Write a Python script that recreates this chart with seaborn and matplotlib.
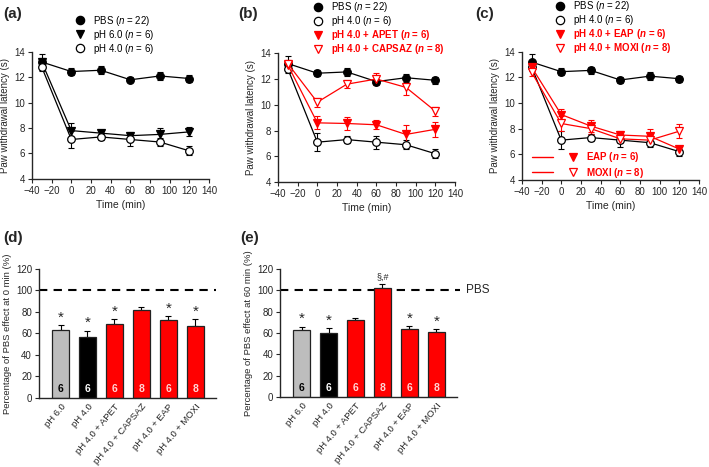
import numpy as np
import pandas as pd
import matplotlib
matplotlib.use("Agg")
import matplotlib.pyplot as plt
from matplotlib.lines import Line2D
from matplotlib.legend_handler import HandlerTuple
import seaborn as sns

# ---- data ----
times = [-30, 0, 30, 60, 90, 120]

pbs = [13.2, 12.45, 12.55, 11.8, 12.1, 11.9]
pbs_err = [0.6, 0.25, 0.3, 0.2, 0.3, 0.25]
ph6 = [13.2, 7.8, 7.6, 7.4, 7.5, 7.7]
ph6_err = [0.3, 0.6, 0.25, 0.3, 0.5, 0.35]
ph4 = [12.8, 7.1, 7.3, 7.1, 6.9, 6.2]
ph4_err = [0.3, 0.7, 0.25, 0.5, 0.35, 0.35]
apet = [13.1, 8.6, 8.55, 8.45, 7.7, 8.1]
apet_err = [0.35, 0.5, 0.5, 0.35, 0.7, 0.6]
capsaz = [13.2, 10.2, 11.6, 12.0, 11.35, 9.5]
capsaz_err = [0.3, 0.35, 0.3, 0.5, 0.6, 0.35]
eap = [12.8, 9.1, 8.2, 7.5, 7.4, 6.4]
eap_err = [0.25, 0.4, 0.5, 0.3, 0.6, 0.2]
moxi = [12.4, 8.4, 8.0, 7.2, 7.1, 7.8]
moxi_err = [0.3, 0.6, 0.4, 0.3, 0.4, 0.55]

groups = ["pH 6.0", "pH 4.0", "pH 4.0 + APET", "pH 4.0 + CAPSAZ",
          "pH 4.0 + EAP", "pH 4.0 + MOXI"]
n_animals = [6, 6, 6, 8, 6, 8]
pct_0min = [63, 57, 69, 81.5, 72.5, 67]
pct_0min_err = [4.5, 5.5, 4.5, 3, 3.5, 6]
pct_60min = [63, 60, 72, 102, 64, 61]
pct_60min_err = [3, 4.5, 2.5, 4, 2.5, 2.5]
marks_0min = ["*", "*", "*", "", "*", "*"]
marks_60min = ["*", "*", "", "§,#", "*", "*"]

RED = "#ff0000"
bar_colors = ["#bdbdbd", "black", RED, RED, RED, RED]
n_colors = ["black", "white", "#ffd6d6", "#ffd6d6", "#ffd6d6", "#ffd6d6"]

sns.set_style("ticks")
plt.rcParams["font.family"] = ["Liberation Sans", "DejaVu Sans"]
plt.rcParams["mathtext.fontset"] = "custom"
plt.rcParams["mathtext.rm"] = "Liberation Sans"
plt.rcParams["mathtext.it"] = "Liberation Sans:italic"
plt.rcParams["mathtext.bf"] = "Liberation Sans:bold"
plt.rcParams["mathtext.bfit"] = "Liberation Sans:italic:bold"
plt.rcParams["axes.linewidth"] = 1.0
plt.rcParams["xtick.major.size"] = 3
plt.rcParams["ytick.major.size"] = 3

N_IT = r"$\it{n}$"
N_BF = r"$\mathbfit{n}$"

# label, values, errors, colour, marker, face colour, bold label
S_PBS = (f"PBS ({N_IT} = 22)", pbs, pbs_err, "black", "o", "black", False)
S_PH6 = (f"pH 6.0 ({N_IT} = 6)", ph6, ph6_err, "black", "v", "black", False)
S_PH4 = (f"pH 4.0 ({N_IT} = 6)", ph4, ph4_err, "black", "o", "white", False)
S_APET = (f"pH 4.0 + APET ({N_BF} = 6)", apet, apet_err, RED, "v", RED, True)
S_CAPS = (f"pH 4.0 + CAPSAZ ({N_BF} = 8)", capsaz, capsaz_err, RED, "v", "white", True)
S_EAP = (f"pH 4.0 + EAP ({N_BF} = 6)", eap, eap_err, RED, "v", RED, True)
S_MOXI = (f"pH 4.0 + MOXI ({N_BF} = 8)", moxi, moxi_err, RED, "v", "white", True)


def time_course(ax, series, legend_xy):
    """ time_course() draws latency curves with error bars."""
    for label, vals, errs, col, mk, fc, bold in series:
        ax.errorbar(times, vals, yerr=errs, fmt="none", ecolor=col,
                    elinewidth=0.8, capsize=2.5, capthick=0.8, zorder=2)
        df = pd.DataFrame({"Time": times, "Latency": vals})
        sns.lineplot(data=df, x="Time", y="Latency", ax=ax, color=col,
                     marker=mk, markersize=5.5, markerfacecolor=fc,
                     markeredgecolor=col, markeredgewidth=0.9,
                     linewidth=0.9, zorder=3)
    ax.set_xlim(-40, 140)
    ax.set_ylim(4, 14)
    ax.set_xticks(range(-40, 141, 20))
    ax.set_yticks(range(4, 15, 2))
    ax.tick_params(labelsize=7, width=0.8, direction="out", pad=2)
    ax.set_xlabel("Time (min)", fontsize=7.5, labelpad=3)
    ax.set_ylabel("Paw withdrawal latency (s)", fontsize=7, labelpad=3)
    sns.despine(ax=ax)

    handles = [Line2D([], [], ls="none", marker=s[4], ms=6, mfc=s[5],
                      mec=s[3], mew=0.9) for s in series]
    leg = ax.legend(handles, [s[0] for s in series], loc="upper left",
                    bbox_to_anchor=legend_xy, frameon=False, fontsize=7,
                    handlelength=1, handletextpad=0.9, labelspacing=0.0,
                    borderpad=0, borderaxespad=0)
    for txt, s in zip(leg.get_texts(), series):
        txt.set_color(s[3])
        if s[6]:
            txt.set_fontweight("bold")
    return leg


def percent_bars(ax, vals, errs, marks, ylabel):
    """ percent_bars() draws the % of PBS effect for each group."""
    sns.barplot(x=groups, y=vals, hue=groups, palette=bar_colors,
                legend=False, width=0.62, edgecolor="#222222",
                linewidth=0.9, saturation=1, ax=ax, zorder=2)
    pos = np.arange(len(groups))
    ax.errorbar(pos, vals, yerr=[np.zeros(len(errs)), errs], fmt="none",
                ecolor="black", elinewidth=0.8, capsize=2.5, capthick=0.8,
                zorder=1)
    for i in pos:
        ax.text(i, 8, str(n_animals[i]), ha="center", va="center",
                fontsize=7.5, fontweight="bold", color=n_colors[i])
        if marks[i] == "*":
            ax.text(i, vals[i] + errs[i] + 0.5, "*", ha="center",
                    va="bottom", fontsize=11)
        elif marks[i]:
            ax.text(i, vals[i] + errs[i] + 2, marks[i], ha="center",
                    va="bottom", fontsize=6.5)
    ax.set_xlim(-0.8, 5.78)
    ax.set_ylim(0, 120)
    ax.set_yticks(range(0, 121, 20))
    ax.tick_params(axis="y", labelsize=7, width=0.8, pad=2)
    ax.tick_params(axis="x", labelsize=6.8, length=0, pad=3)
    plt.setp(ax.get_xticklabels(), rotation=50, ha="right",
             rotation_mode="anchor")
    ax.set_ylabel(ylabel, fontsize=6.8, labelpad=3)
    sns.despine(ax=ax)


fig = plt.figure(figsize=(7.09, 4.67), dpi=100)
ax_a = fig.add_axes([0.045, 0.617, 0.25, 0.272])
ax_b = fig.add_axes([0.392, 0.610, 0.25, 0.276])
ax_c = fig.add_axes([0.736, 0.615, 0.25, 0.274])
ax_d = fig.add_axes([0.055, 0.148, 0.25, 0.276])
ax_e = fig.add_axes([0.395, 0.150, 0.25, 0.274])

time_course(ax_a, [S_PBS, S_PH6, S_PH4], (0.243, 1.30))
time_course(ax_b, [S_PBS, S_PH4, S_APET, S_CAPS], (0.198, 1.41))
top_leg = time_course(ax_c, [S_PBS, S_PH4, S_EAP, S_MOXI], (0.186, 1.41))
ax_c.add_artist(top_leg)

# inner key of panel (c): line, marker, label
inner = []
for s in (S_EAP, S_MOXI):
    ln = Line2D([], [], color=RED, lw=1.0)
    mk = Line2D([], [], ls="none", marker=s[4], ms=6, mfc=s[5], mec=RED, mew=0.9)
    inner.append((ln, mk))
inner_labels = [f"EAP ({N_BF} = 6)", f"MOXI ({N_BF} = 8)"]
leg2 = ax_c.legend(inner, inner_labels, handler_map={tuple: HandlerTuple(ndivide=None, pad=1.0)},
                   loc="lower left", bbox_to_anchor=(0.06, 0.0), frameon=False,
                   fontsize=7, handlelength=5.2, handletextpad=0.3,
                   labelspacing=0.15, borderpad=0, borderaxespad=0)
for txt in leg2.get_texts():
    txt.set_color(RED)
    txt.set_fontweight("bold")

percent_bars(ax_d, pct_0min, pct_0min_err, marks_0min,
             "Percentage of PBS effect at 0 min (%)")
ax_d.axhline(100, color="black", lw=1.5, ls=(0, (4, 3)), zorder=0)

percent_bars(ax_e, pct_60min, pct_60min_err, marks_60min,
             "Percentage of PBS effect at 60 min (%)")
ax_e.axhline(100, xmin=0, xmax=1.017, color="black", lw=1.5,
             ls=(0, (4, 3)), zorder=0, clip_on=False)
ax_e.text(1.05, 100, "PBS", transform=ax_e.get_yaxis_transform(),
          ha="left", va="center", fontsize=8.5)

for lab, x, y in [("(a)", 0.004, 0.97), ("(b)", 0.336, 0.97),
                  ("(c)", 0.671, 0.97), ("(d)", 0.004, 0.49),
                  ("(e)", 0.339, 0.49)]:
    fig.text(x, y, lab, fontsize=11, fontweight="bold", ha="left",
             va="center")

fig.savefig("out.png", dpi=100, facecolor="white")
